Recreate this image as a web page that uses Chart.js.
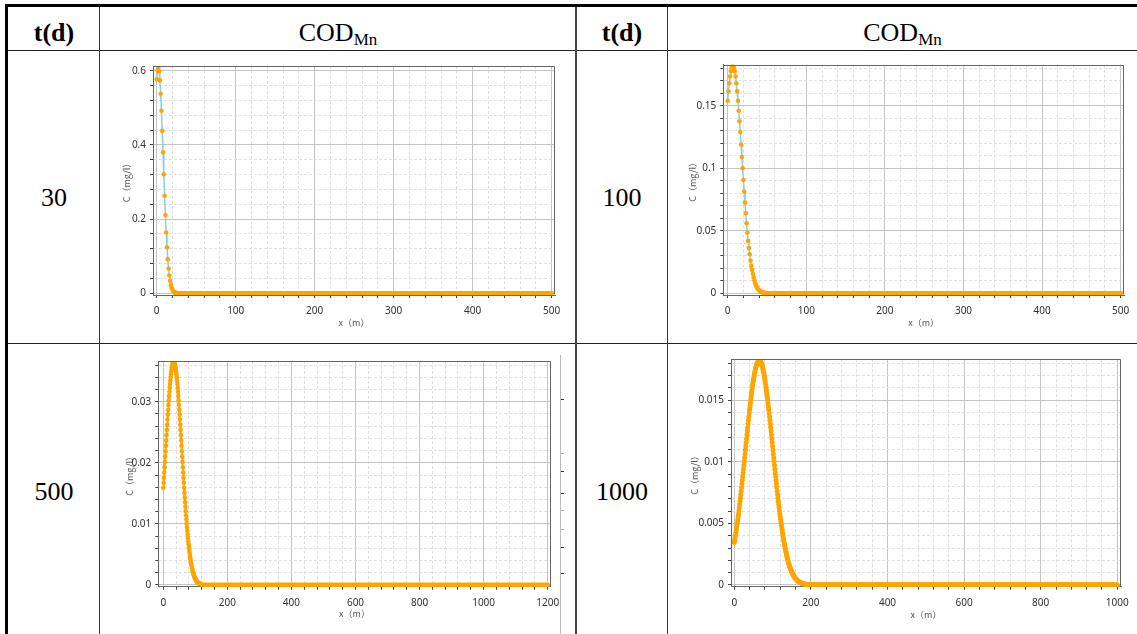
<!DOCTYPE html>
<html><head><meta charset="utf-8">
<script src="https://cdn.jsdelivr.net/npm/chart.js@4.4.1/dist/chart.umd.min.js"></script>
<style>
html,body{margin:0;padding:0;background:#fff;}
body{width:1137px;height:634px;position:relative;overflow:hidden;}
.ln{position:absolute;}
.tx{position:absolute;text-align:center;font-family:'Liberation Serif','Times New Roman',serif;font-size:26px;line-height:26px;color:#000;white-space:nowrap;}
.cv{position:absolute;}
</style></head><body>
<script>
// ---------- texts ----------
const headerT = 't(d)';
const headerC = 'COD';
const headerSub = 'Mn';
const timesDays = ['30', '100', '500', '1000'];
const yTitle = 'C（mg/l）';
const xTitle = 'x（m）';

// ---------- data (concentration C in mg/l at x = 0,1,2,... m; curve reads flat 0 after the listed values) ----------
const c30 = [0.577, 0.600, 0.607, 0.599, 0.574, 0.538, 0.492, 0.438, 0.380, 0.321, 0.263, 0.211, 0.164, 0.124, 0.092,
  0.067, 0.048, 0.034, 0.022, 0.014, 0.0088, 0.0054, 0.0032, 0.0019, 0.0011, 0.0006, 0.0003, 0.0002, 0.0001];
const c30End = 500;

const c100 = [0.154, 0.1616, 0.168, 0.1734, 0.1776, 0.1804, 0.1818, 0.1818, 0.1804, 0.1776, 0.1734, 0.168, 0.1616, 0.154,
  0.146, 0.1375, 0.129, 0.119, 0.109, 0.1, 0.0906, 0.0813, 0.0725, 0.064, 0.056, 0.0485, 0.042, 0.0362, 0.0312, 0.0261,
  0.0219, 0.0187, 0.0155, 0.0128, 0.0101, 0.008, 0.0064, 0.005, 0.0039, 0.003, 0.0023, 0.0018, 0.0013, 0.001, 0.0007,
  0.0005, 0.0004, 0.0003, 0.0002, 0.00015, 0.0001];
const c100End = 500;

const c500 = [0.01591, 0.01673, 0.01757, 0.01841, 0.01927, 0.02014, 0.02101, 0.02189, 0.02277, 0.02365,
  0.02452, 0.02538, 0.02623, 0.02707, 0.02789, 0.02869, 0.02947, 0.03022, 0.03094, 0.03163,
  0.03228, 0.03289, 0.03347, 0.03400, 0.03449, 0.03492, 0.03531, 0.03564, 0.03592, 0.03615,
  0.03632, 0.03644, 0.03649, 0.03649, 0.03644, 0.03632, 0.03615, 0.03592, 0.03564, 0.03531,
  0.03492, 0.03449, 0.03400, 0.03347, 0.03289, 0.03228, 0.03163, 0.03094, 0.03022, 0.02947,
  0.02869, 0.02789, 0.02707, 0.02623, 0.02538, 0.02452, 0.02365, 0.02277, 0.02189, 0.02101,
  0.02014, 0.01927, 0.01841, 0.01757, 0.01673, 0.01591, 0.01510, 0.01432, 0.01355, 0.01281,
  0.01208, 0.01138, 0.01070, 0.01005, 0.00942, 0.00882, 0.00825, 0.00769, 0.00717, 0.00667,
  0.00619, 0.00574, 0.00532, 0.00492, 0.00454, 0.00418, 0.00385, 0.00353, 0.00324, 0.00297,
  0.00271, 0.00248, 0.00226, 0.00205, 0.00187, 0.00169, 0.00153, 0.00139, 0.00125, 0.00113,
  0.00102, 0.00091, 0.00082, 0.00073, 0.00066, 0.00059, 0.00052, 0.00046, 0.00041, 0.00037,
  0.00033, 0.00029, 0.00025, 0.00022, 0.00020, 0.00017, 0.00015, 0.00013, 0.00012, 0.00010, 0.00009];
const c500End = 1200;

const c1000 = [0.00345, 0.00363, 0.00382, 0.00401, 0.00421, 0.00442, 0.00463, 0.00484, 0.00507, 0.00530,
  0.00553, 0.00577, 0.00602, 0.00628, 0.00654, 0.00680, 0.00707, 0.00735, 0.00763, 0.00792,
  0.00821, 0.00850, 0.00880, 0.00910, 0.00940, 0.00971, 0.01002, 0.01033, 0.01064, 0.01095,
  0.01126, 0.01157, 0.01187, 0.01218, 0.01249, 0.01279, 0.01309, 0.01338, 0.01367, 0.01396,
  0.01424, 0.01451, 0.01478, 0.01505, 0.01530, 0.01555, 0.01579, 0.01602, 0.01625, 0.01646,
  0.01666, 0.01685, 0.01703, 0.01720, 0.01735, 0.01750, 0.01763, 0.01775, 0.01785, 0.01794,
  0.01802, 0.01809, 0.01814, 0.01817, 0.01819,
  0.01820,
  0.01819, 0.01817, 0.01814, 0.01809, 0.01802, 0.01794, 0.01785, 0.01775, 0.01763, 0.01750,
  0.01735, 0.01720, 0.01703, 0.01685, 0.01666, 0.01646, 0.01625, 0.01602, 0.01579, 0.01555,
  0.01530, 0.01505, 0.01478, 0.01451, 0.01424, 0.01396, 0.01367, 0.01338, 0.01309, 0.01279,
  0.01249, 0.01218, 0.01187, 0.01157, 0.01126, 0.01095, 0.01064, 0.01033, 0.01002, 0.00971,
  0.00940, 0.00910, 0.00880, 0.00850, 0.00821, 0.00792, 0.00763, 0.00735, 0.00707, 0.00680,
  0.00654, 0.00628, 0.00602, 0.00577, 0.00553, 0.00530, 0.00507, 0.00484, 0.00463, 0.00442,
  0.00421, 0.00401, 0.00382, 0.00363, 0.00345, 0.00328, 0.00311, 0.00295, 0.00280, 0.00265,
  0.00251, 0.00237, 0.00224, 0.00211, 0.00199, 0.00188, 0.00177, 0.00166, 0.00156, 0.00147,
  0.00138, 0.00129, 0.00121, 0.00114, 0.00106, 0.00099, 0.00093, 0.00087, 0.00081, 0.00075,
  0.00070, 0.00065, 0.00061, 0.00056, 0.00052, 0.00049, 0.00045, 0.00042, 0.00039, 0.00036,
  0.00033, 0.00030, 0.00028, 0.00026, 0.00024, 0.00022, 0.00020, 0.00018, 0.00017, 0.00016,
  0.00014, 0.00013, 0.00012, 0.00011, 0.00010, 0.00009, 0.00008, 0.00007, 0.00007, 0.00006,
  0.00005, 0.00005, 0.00004, 0.00004, 0.00003, 0.00003, 0.00003, 0.00002, 0.00002, 0.00002,
  0.00002, 0.00001, 0.00001, 0.00001, 0.00001];
const c1000End = 1000;
const tailValue = 0;

// ---------- tick labels ----------
const xLabels30 = [0, 100, 200, 300, 400, 500];
const yLabels30 = [0, 0.2, 0.4, 0.6];
const xLabels100 = [0, 100, 200, 300, 400, 500];
const yLabels100 = [0, 0.05, 0.1, 0.15];
const xLabels500 = [0, 200, 400, 600, 800, 1000, 1200];
const yLabels500 = [0, 0.01, 0.02, 0.03];
const xLabels1000 = [0, 200, 400, 600, 800, 1000];
const yLabels1000 = [0, 0.005, 0.01, 0.015];

// ---------- table drawing ----------
function line(x, y, w, h, c) {
  const d = document.createElement('div'); d.className = 'ln';
  d.style.cssText = `left:${x}px;top:${y}px;width:${w}px;height:${h}px;background:${c};`;
  document.body.appendChild(d);
}
function text(html, x, w, top, bold) {
  const d = document.createElement('div'); d.className = 'tx';
  d.style.left = x + 'px'; d.style.width = w + 'px'; d.style.top = top + 'px';
  if (bold) d.style.fontWeight = 'bold';
  d.innerHTML = html;
  document.body.appendChild(d);
}
line(5, 4, 1132, 3, '#000');
line(5, 4, 3, 630, '#000');
line(8, 50, 1129, 1, '#222');
line(8, 343, 1129, 1, '#222');
line(99, 7, 1, 627, '#333');
line(575, 7, 2, 627, '#444');
line(667, 7, 1, 627, '#333');

const cod = `${headerC}<span style="font-size:17px;position:relative;top:4px">${headerSub}</span>`;
text(headerT, 8, 92, 20, true);
text(cod, 100, 476, 20, false);
text(headerT, 576, 92, 20, true);
text(cod, 668, 469, 20, false);
text(timesDays[0], 8, 92, 185, false);
text(timesDays[1], 576, 92, 185, false);
text(timesDays[2], 8, 92, 479, false);
text(timesDays[3], 576, 92, 479, false);

// artefact axis at right of the 500 d chart
line(560, 355, 1, 279, '#bdbdbd');
[399, 471, 493, 547, 573].forEach(y => line(561, y, 3, 1, '#333'));
[453, 510, 529].forEach(y => line(561, y, 3, 1, '#aaa'));

// ---------- charts ----------
function series(head, xEnd) {
  const pts = [];
  for (let x = 0; x <= xEnd; x++) pts.push({x: x, y: x < head.length ? head[x] : tailValue});
  return pts;
}
function findMajor(v, majors) {
  for (const m of majors) if (Math.abs(m - v) < 1e-9) return m;
  return null;
}
const frame = {
  id: 'frame',
  afterDraw(chart) {
    const {ctx, chartArea: a} = chart;
    ctx.save();
    ctx.strokeStyle = '#666'; ctx.lineWidth = 1;
    const l = Math.round(a.left) + 0.5, t = Math.round(a.top) + 0.5, r = Math.round(a.right) - 0.5, b = Math.round(a.bottom) - 0.5;
    ctx.beginPath(); ctx.moveTo(l, t); ctx.lineTo(r, t); ctx.lineTo(r, b); ctx.stroke();
    ctx.restore();
  }
};
const tickFont = {family: "'Noto Sans', 'DejaVu Sans', sans-serif", size: 10};
const titleFont = {family: "'Noto Sans CJK SC', 'Noto Sans', sans-serif", size: 9};

function axis(min, max, step, majors, extra) {
  return Object.assign({
    type: 'linear', min: min, max: max,
    ticks: {
      stepSize: step, autoSkip: false, maxRotation: 0, minRotation: 0, includeBounds: false,
      color: '#333', font: tickFont,
      callback: v => { const m = findMajor(v, majors); return m === null ? '' : String(m); }
    },
    grid: {
      color: c => (c.tick && findMajor(c.tick.value, majors) === null) ? '#e0e0e0' : '#c4c4c4',
      tickColor: '#444', tickLength: 3, lineWidth: 1
    },
    border: {
      color: '#666', width: 1,
      dash: c => (c.tick && findMajor(c.tick.value, majors) === null) ? [3, 2] : []
    }
  }, extra);
}

function makeChart(s) {
  const cv = document.createElement('canvas');
  cv.className = 'cv'; cv.width = s.w; cv.height = s.h;
  cv.style.left = s.x + 'px'; cv.style.top = s.y + 'px';
  document.body.appendChild(cv);
  const xa = axis(s.xMin, s.xMax, s.xStep, s.xMajor, {position: 'bottom', afterFit: sc => { sc.height = s.xH; }});
  xa.ticks.padding = 7;
  xa.title = {display: true, text: xTitle, color: '#555', font: titleFont, padding: {top: 0, bottom: s.xTitlePad}};
  const ya = axis(s.yMin, s.yMax, s.yStep, s.yMajor, {position: 'left', afterFit: sc => { sc.width = s.yW; }});
  ya.ticks.padding = 4;
  ya.title = {display: true, text: yTitle, color: '#555', font: titleFont, padding: {top: s.yTitlePad, bottom: 0}};
  new Chart(cv, {
    type: 'scatter',
    data: {datasets: [{
      data: s.points, showLine: true, borderColor: s.lineColor, borderWidth: s.lineWidth,
      pointRadius: s.r, pointBackgroundColor: '#FFA500', pointBorderColor: '#FFA500', pointBorderWidth: 0,
      clip: 0, tension: 0
    }]},
    options: {
      responsive: false, animation: false, events: [],
      layout: {padding: {left: 0, top: s.padTop, right: s.padRight, bottom: 0}},
      plugins: {legend: {display: false}, tooltip: {enabled: false}},
      scales: {x: xa, y: ya}
    },
    plugins: [frame]
  });
}

makeChart({x: 103, y: 52, w: 470, h: 288, padTop: 14, padRight: 18, yW: 50, xH: 45,
  xMin: -4.7, xMax: 504.2, xStep: 20, xMajor: xLabels30, yMin: -0.0046, yMax: 0.6127, yStep: 0.04, yMajor: yLabels30,
  xTitlePad: 11.6, yTitlePad: 18.3, r: 2.3, lineColor: '#87CEEB', lineWidth: 1.5, points: series(c30, c30End)});
makeChart({x: 673, y: 52, w: 464, h: 288, padTop: 12.7, padRight: 13, yW: 50.3, xH: 45,
  xMin: -5.6, xMax: 504.2, xStep: 20, xMajor: xLabels100, yMin: -0.0014, yMax: 0.1828, yStep: 0.01, yMajor: yLabels100,
  xTitlePad: 11.6, yTitlePad: 14.3, r: 2.3, lineColor: '#87CEEB', lineWidth: 1.5, points: series(c100, c100End)});
makeChart({x: 103, y: 346, w: 470, h: 288, padTop: 15, padRight: 22.3, yW: 55.3, xH: 47.3,
  xMin: -15.6, xMax: 1209.4, xStep: 40, xMajor: xLabels500, yMin: -0.00028, yMax: 0.03666, yStep: 0.002, yMajor: yLabels500,
  xTitlePad: 14.6, yTitlePad: 20.9, r: 2.3, lineColor: '#FFA500', lineWidth: 2, points: series(c500, c500End)});
makeChart({x: 673, y: 346, w: 464, h: 288, padTop: 13.3, padRight: 16, yW: 58, xH: 47.3,
  xMin: -8.6, xMax: 1009.7, xStep: 40, xMajor: xLabels1000, yMin: -0.00014, yMax: 0.01832, yStep: 0.001, yMajor: yLabels1000,
  xTitlePad: 14.3, yTitlePad: 16.6, r: 2.5, lineColor: '#FFA500', lineWidth: 2, points: series(c1000, c1000End)});
</script>
</body></html>
